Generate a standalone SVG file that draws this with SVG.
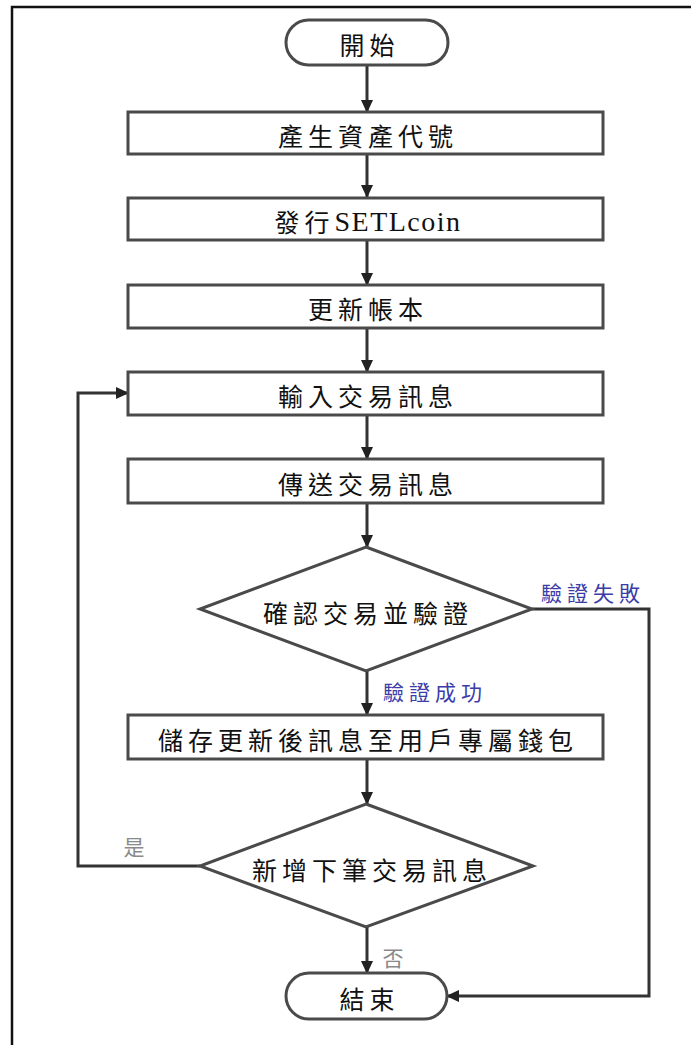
<svg xmlns="http://www.w3.org/2000/svg" width="691" height="1045" viewBox="0 0 691 1045">
<defs>
<marker id="ah" markerWidth="14" markerHeight="14" refX="12" refY="7" orient="auto" markerUnits="userSpaceOnUse">
<path d="M0,1 L13,7 L0,13 Z" fill="#222"/>
</marker>
<style>
.shape{fill:#fff;stroke:#4a4a4a;stroke-width:3}
.conn{fill:none;stroke:#333;stroke-width:3}
.t{font-family:"Noto Sans CJK TC","Noto Sans CJK SC",sans-serif;font-size:25px;letter-spacing:5px;fill:#111;text-anchor:middle;dominant-baseline:central}
.lat{font-family:"Liberation Serif",serif;font-size:28px;letter-spacing:1.5px}
.lb{font-family:"Noto Sans CJK TC",sans-serif;font-size:21px;letter-spacing:5px;fill:#3c3ca8;text-anchor:middle;dominant-baseline:central}
.lg{font-family:"Noto Sans CJK TC",sans-serif;font-size:21px;fill:#8a8a8a;text-anchor:middle;dominant-baseline:central}
</style>
</defs>
<rect x="12" y="7" width="720" height="1100" fill="#fff" stroke="#111" stroke-width="2.5"/>
<g id="connectors">
<line class="conn" x1="367" y1="65" x2="367" y2="112" marker-end="url(#ah)"/>
<line class="conn" x1="367" y1="154" x2="367" y2="197" marker-end="url(#ah)"/>
<line class="conn" x1="367" y1="240" x2="367" y2="285" marker-end="url(#ah)"/>
<line class="conn" x1="367" y1="328" x2="367" y2="372" marker-end="url(#ah)"/>
<line class="conn" x1="367" y1="415" x2="367" y2="459" marker-end="url(#ah)"/>
<line class="conn" x1="367" y1="503" x2="367" y2="547" marker-end="url(#ah)"/>
<line class="conn" x1="367" y1="671" x2="367" y2="715" marker-end="url(#ah)"/>
<line class="conn" x1="367" y1="759" x2="367" y2="804" marker-end="url(#ah)"/>
<line class="conn" x1="367" y1="927" x2="367" y2="973" marker-end="url(#ah)"/>
<polyline class="conn" points="200,866 78,866 78,393 128,393" marker-end="url(#ah)"/>
<polyline class="conn" points="532,609 649,609 649,996 447,996" marker-end="url(#ah)"/>
<text class="lb" x="593" y="592">驗證失敗</text>
<text class="lb" x="435" y="691">驗證成功</text>
<text class="lg" x="134" y="846">是</text>
<text class="lg" x="393" y="957">否</text>
</g>
<g id="start">
<rect class="shape" x="286" y="20" width="162" height="45" rx="22.5"/>
<text class="t" x="369.5" y="44">開始</text>
</g>
<g id="step1">
<rect class="shape" x="128" y="112" width="475" height="42"/>
<text class="t" x="368" y="135">產生資產代號</text>
</g>
<g id="step2">
<rect class="shape" x="128" y="198" width="475" height="42"/>
<text class="t" x="368" y="221">發行<tspan class="lat">SETLcoin</tspan></text>
</g>
<g id="step3">
<rect class="shape" x="128" y="285" width="475" height="43"/>
<text class="t" x="368" y="308">更新帳本</text>
</g>
<g id="step4">
<rect class="shape" x="128" y="372" width="475" height="43"/>
<text class="t" x="368" y="395">輸入交易訊息</text>
</g>
<g id="step5">
<rect class="shape" x="128" y="459" width="475" height="44"/>
<text class="t" x="368" y="483">傳送交易訊息</text>
</g>
<g id="decision1">
<polygon class="shape" points="366,547 532,609 366,671 200,609"/>
<text class="t" x="368" y="612">確認交易並驗證</text>
</g>
<g id="step6">
<rect class="shape" x="128" y="715" width="475" height="44"/>
<text class="t" x="368" y="739">儲存更新後訊息至用戶專屬錢包</text>
</g>
<g id="decision2">
<polygon class="shape" points="366,804 533,866 366,927 200,866"/>
<text class="t" x="372" y="869">新增下筆交易訊息</text>
</g>
<g id="end">
<rect class="shape" x="286" y="973" width="161" height="46" rx="23"/>
<text class="t" x="369.5" y="998">結束</text>
</g>
</svg>
